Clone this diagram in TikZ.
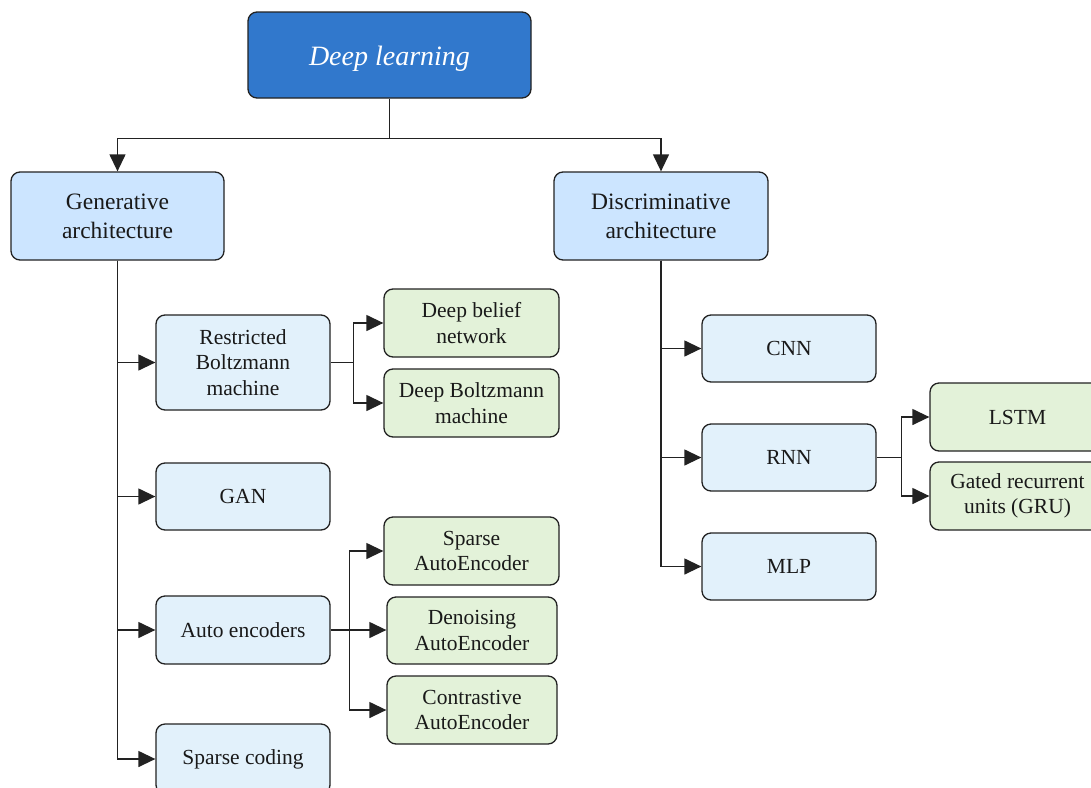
\documentclass[tikz,border=0pt]{standalone}
\usepackage{fontspec}
\setmainfont{Liberation Serif}
\usetikzlibrary{arrows.meta}
\definecolor{topblue}{HTML}{3178CC}
\definecolor{midblue}{HTML}{CCE5FF}
\definecolor{subblue}{HTML}{E2F1FB}
\definecolor{subgreen}{HTML}{E3F2D9}
\definecolor{edge}{HTML}{222222}
\tikzset{
  box/.style={draw=edge, line width=1.3pt, rounded corners=9pt, inner sep=0pt,
    align=center, text=black!90},
  topbox/.style={box, fill=topblue, text=white, minimum width=283pt, minimum height=86pt,
    text height=22pt, text depth=2pt,
    font=\fontsize{28}{32}\selectfont\itshape},
  midbox/.style={box, fill=midblue, minimum width=213pt, minimum height=88pt,
    font=\fontsize{23.5}{29}\selectfont},
  subbox/.style={box, fill=subblue, minimum width=174pt, minimum height=67pt,
    font=\fontsize{21.5}{25.5}\selectfont},
  leafbox/.style={box, fill=subgreen, minimum width=175pt, minimum height=68pt,
    font=\fontsize{21.5}{25.5}\selectfont},
  link/.style={draw=edge, line width=1.3pt},
  arr/.style={link, -{Triangle[length=17pt,width=16pt]}},
}
\begin{document}
\begin{tikzpicture}[x=1pt,y=-1pt]
\useasboundingbox (0,0) rectangle (1091,787);
\clip (0,0) rectangle (1091,787);
\fill[white] (0,0) rectangle (1091,787);

\node[topbox] (dl) at (389.5,55) {Deep learning};
\node[midbox] (gen) at (117.5,216) {Generative\\architecture};
\node[midbox, minimum width=214pt] (dis) at (661,216) {Discriminative\\architecture};

\node[subbox, minimum height=95pt] (rbm) at (243,362.5) {Restricted\\Boltzmann\\machine};
\node[subbox] (gan) at (243,496.5) {GAN};
\node[subbox, minimum height=68pt] (ae) at (243,630) {Auto encoders};
\node[subbox, minimum height=70pt] (sc) at (243,759) {Sparse coding};

\node[leafbox] (dbn) at (471.5,323) {Deep belief\\network};
\node[leafbox] (dbm) at (471.5,403) {Deep Boltzmann\\machine};
\node[leafbox] (sae) at (471.5,551) {Sparse\\AutoEncoder};
\node[leafbox, minimum width=170pt, minimum height=67pt] (dae) at (472,630.5) {Denoising\\AutoEncoder};
\node[leafbox, minimum width=170pt] (cae) at (472,710) {Contrastive\\AutoEncoder};

\node[subbox] (cnn) at (789,348.5) {CNN};
\node[subbox] (rnn) at (789,457.5) {RNN};
\node[subbox] (mlp) at (789,566.5) {MLP};

\node[leafbox, minimum width=175pt] (lstm) at (1017.5,417) {LSTM};
\node[leafbox, minimum width=175pt] (gru) at (1017.5,496) {Gated recurrent\\units (GRU)};

% top split
\draw[link] (dl.south) -- ++(0,40) coordinate (j1);
\draw[arr] (j1) -| (gen.north);
\draw[arr] (j1) -| (dis.north);

% generative trunk
\foreach \t in {rbm,gan,ae,sc}
  \draw[arr] (gen.south) |- (\t.west);

% RBM split
\draw[link] (rbm.east) -- ++(23,0) coordinate (j2);
\draw[arr] (j2) |- (dbn.west);
\draw[arr] (j2) |- (dbm.west);

% AE split
\draw[link] (ae.east) -- ++(19,0) coordinate (j3);
\draw[arr] (j3) |- (sae.west);
\draw[arr] (ae.east) -- (ae.east -| dae.west);
\draw[arr] (j3) |- (cae.west);

% discriminative trunk
\foreach \t in {cnn,rnn,mlp}
  \draw[arr] (dis.south) |- (\t.west);

% RNN split
\draw[link] (rnn.east) -- ++(25,0) coordinate (j4);
\draw[arr] (j4) |- (lstm.west);
\draw[arr] (j4) |- (gru.west);
\end{tikzpicture}
\end{document}
